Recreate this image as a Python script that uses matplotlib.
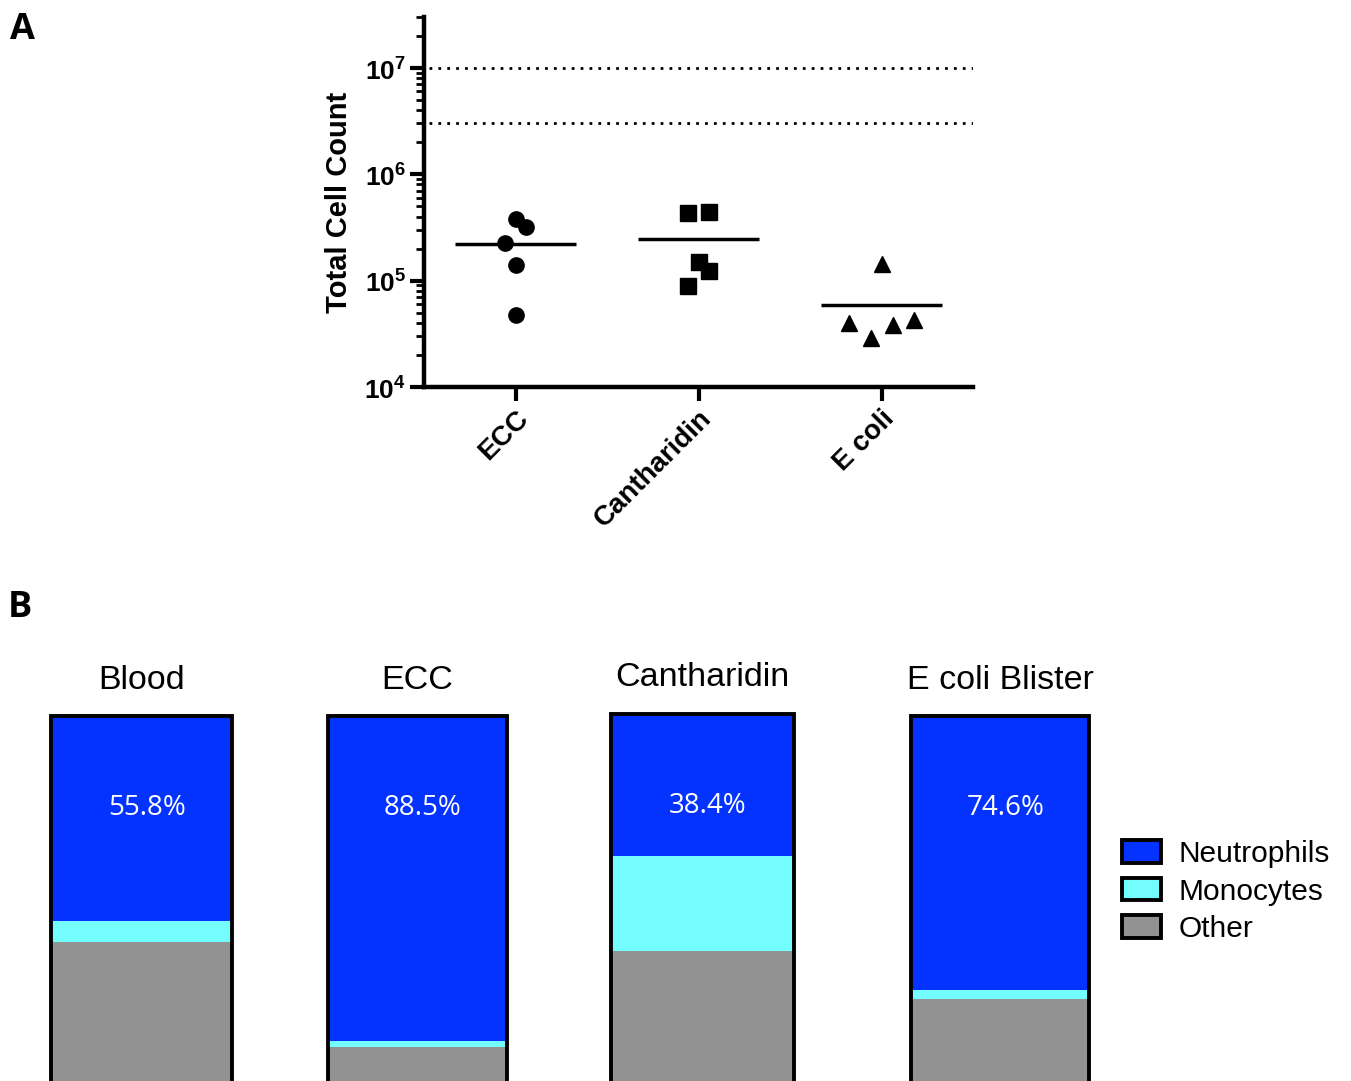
import numpy as np
import matplotlib
matplotlib.use('Agg')
import matplotlib.pyplot as plt
from matplotlib.patches import Patch
from matplotlib.ticker import LogLocator, NullFormatter

plt.rcParams['font.family'] = ['Liberation Sans', 'DejaVu Sans']
plt.rcParams['mathtext.fontset'] = 'custom'
plt.rcParams['mathtext.rm'] = 'Liberation Sans:bold'
plt.rcParams['mathtext.bf'] = 'Liberation Sans:bold'

# ---- Panel A data (total cell count per donor) ----
groups = ['ECC', 'Cantharidin', 'E coli']
ecc_counts = [3.76e5, 3.16e5, 2.28e5, 1.39e5, 4.7e4]
ecc_jitter = [0.0, 0.06, -0.06, 0.0, 0.0]
canth_counts = [4.29e5, 4.37e5, 1.51e5, 1.22e5, 8.97e4]
canth_jitter = [-0.055, 0.06, 0.0, 0.06, -0.055]
ecoli_counts = [1.42e5, 4.0e4, 2.9e4, 3.85e4, 4.29e4]
ecoli_jitter = [0.0, -0.18, -0.06, 0.065, 0.18]
ref_lines = [1e7, 3e6]

# ---- Panel B data (cell composition, %) ----
samples = ['Blood', 'ECC', 'Cantharidin', 'E coli Blister']
neutrophils = [55.8, 88.5, 38.4, 74.6]
monocytes = [5.7, 1.6, 25.8, 2.4]
other = [38.5, 9.9, 35.8, 23.0]

W, H = 1351, 1081
fig = plt.figure(figsize=(W / 100, H / 100), dpi=100)


def px_axes(x0, y0, x1, y1):
    """Axes from pixel box (top-left origin)."""
    return fig.add_axes([x0 / W, 1 - y1 / H, (x1 - x0) / W, (y1 - y0) / H])


# ================= Panel A =================
ax = px_axes(424, 17, 973, 387)
series = [(ecc_counts, ecc_jitter, 'o', 11),
          (canth_counts, canth_jitter, 's', 11),
          (ecoli_counts, ecoli_jitter, '^', 11)]
for i, (vals, jit, mk, ms) in enumerate(series):
    xpos = i + 1 + np.array(jit)
    ax.plot(xpos, vals, linestyle='none', marker=mk, color='black', markersize=ms)
    m = np.mean(vals)
    ax.plot([i + 1 - 0.33, i + 1 + 0.33], [m, m], color='black', lw=2.5,
            solid_capstyle='butt')

for v in ref_lines:
    ax.axhline(v, color='black', lw=2, linestyle=(0, (1, 2.2)), xmin=0.01, xmax=1)

ax.set_yscale('log')
ax.set_ylim(1e4, 3e7)
ax.set_xlim(0.5, 3.5)
ax.set_yticks([1e4, 1e5, 1e6, 1e7])
ax.set_yticklabels([r'$10^{4}$', r'$10^{5}$', r'$10^{6}$', r'$10^{7}$'], fontsize=19)
ax.yaxis.set_minor_locator(LogLocator(base=10, subs=np.arange(2, 10), numticks=20))
ax.yaxis.set_minor_formatter(NullFormatter())
ax.set_xticks([1, 2, 3])
ax.set_xticklabels(groups, rotation=45, ha='right', rotation_mode='anchor',
                   fontsize=20, fontweight='bold')
ax.tick_params(axis='both', which='major', length=10, width=3, direction='out', pad=3)
ax.tick_params(axis='y', which='minor', length=6, width=2)
ax.set_ylabel('Total Cell Count', fontsize=21, fontweight='bold', labelpad=8)
for s in ['top', 'right']:
    ax.spines[s].set_visible(False)
for s in ['left', 'bottom']:
    ax.spines[s].set_linewidth(3.2)

# ================= Panel B =================
bar_boxes = [(50, 714, 233), (327, 714, 508), (610, 712, 795), (910, 714, 1090)]
blue, cyan, grey = '#0433FF', '#73FDFF', '#929292'
for (x0, y0, x1), name, n, mo, ot in zip(bar_boxes, samples, neutrophils, monocytes, other):
    bx = px_axes(x0 - 3, y0, x1 + 3, 1083)
    bx.bar(0, ot, width=1, color=grey, edgecolor='none')
    bx.bar(0, mo, width=1, bottom=ot, color=cyan, edgecolor='none')
    bx.bar(0, n, width=1, bottom=ot + mo, color=blue, edgecolor='none')
    bx.bar(0, ot + mo + n, width=1, fill=False, edgecolor='black', lw=2.8)
    bx.set_xlim(-0.52, 0.52)
    bx.set_ylim(0, 100.5)
    bx.axis('off')
    bx.text(0.5, 1.05, name, transform=bx.transAxes, ha='center', va='bottom',
            fontsize=24.5)
    bx.text(0.03, 100 - 25, f'{n}%', ha='center', va='center', color='white',
            fontsize=20, family=['Open Sans', 'DejaVu Sans'])

handles = [Patch(facecolor=blue, edgecolor='black', lw=2.8, label='Neutrophils'),
           Patch(facecolor=cyan, edgecolor='black', lw=2.8, label='Monocytes'),
           Patch(facecolor=grey, edgecolor='black', lw=2.8, label='Other')]
fig.legend(handles=handles, loc='upper left', bbox_to_anchor=(1116 / W, 1 - 834 / H),
           frameon=False, fontsize=21.5, handlelength=1.3, handleheight=0.78,
           handletextpad=0.6, labelspacing=0.32, borderaxespad=0, borderpad=0.2)

# panel letters
fig.text(10 / W, 1 - 30 / H, 'A', fontsize=26, fontweight='bold', va='center',
         family=['Open Sans', 'DejaVu Sans'])
fig.text(8 / W, 1 - 608 / H, 'B', fontsize=26, fontweight='bold', va='center',
         family=['Open Sans', 'DejaVu Sans'])

fig.savefig('out.png', dpi=100)
